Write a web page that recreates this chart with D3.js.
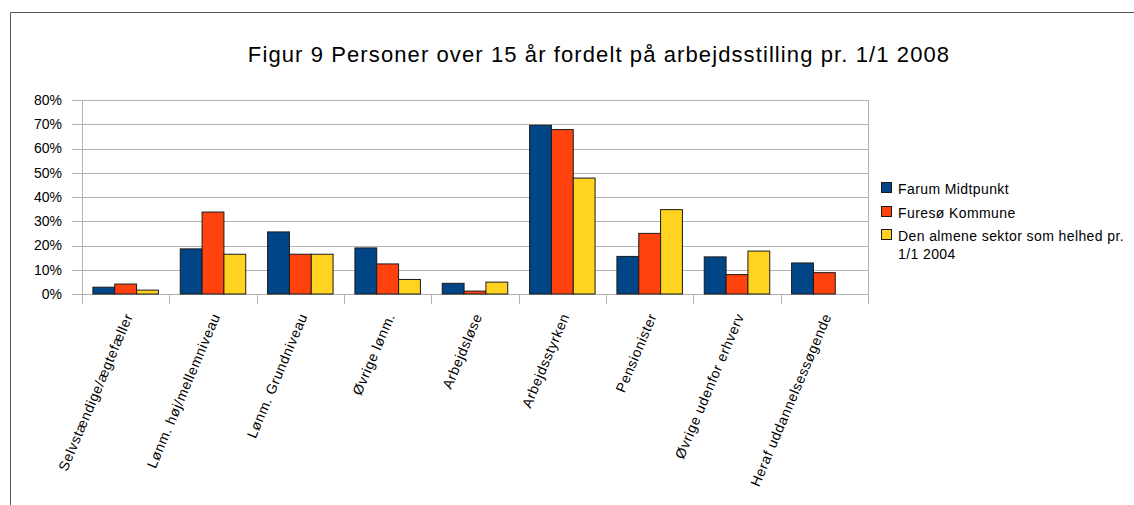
<!DOCTYPE html>
<html><head><meta charset="utf-8">
<script src="https://cdn.jsdelivr.net/npm/d3@7/dist/d3.min.js"></script>
<style>body{margin:0;background:#fff}svg{display:block}text{font-family:"Liberation Sans",Arial,sans-serif;fill:#000}</style>
</head><body><svg id="c" width="1134" height="505"></svg>
<script>
const categories = ["Selvstændige/ægtefæller","Lønm. høj/mellemniveau","Lønm. Grundniveau","Øvrige lønm.","Arbejdsløse","Arbejdsstyrken","Pensionister","Øvrige udenfor erhverv","Heraf uddannelsessøgende"];
const seriesNames = ["Farum Midtpunkt","Furesø Kommune","Den almene sektor som helhed pr. 1/1 2004"];
const farum = [2.8, 18.6, 25.6, 19.0, 4.4, 69.6, 15.5, 15.3, 12.8];
const furesoe = [4.1, 33.8, 16.4, 12.4, 1.2, 67.8, 25.0, 8.0, 8.8];
const almene = [1.6, 16.4, 16.4, 6.0, 4.9, 47.8, 34.8, 17.7, null];
const yTicks = [0,10,20,30,40,50,60,70,80];
const colors = ["#004586","#ff420e","#ffd320"];
const title = "Figur 9 Personer over 15 år fordelt på arbejdsstilling pr. 1/1 2008";

const svg = d3.select("#c");
// outer frame
svg.append("path").attr("d","M10.5,505 V12.5 H1134").attr("fill","none").attr("stroke","#555").attr("stroke-width",1);
svg.append("text").attr("x",599).attr("y",62).attr("text-anchor","middle").style("font-size","22px").style("letter-spacing","1.1px").text(title);

const L=82, R=868, T=100, B=294;
const x = d3.scaleBand().domain(categories).range([L,R]).paddingInner(0).paddingOuter(0);
const x1 = d3.scaleBand().domain([0,1,2]).range([0,x.bandwidth()]).paddingOuter(0.5).paddingInner(0);
const y = d3.scaleLinear().domain([0,80]).range([B,T]);

const g = svg.append("g");
// gridlines
g.selectAll("line.grid").data(yTicks).join("line")
  .attr("x1",L-10).attr("x2",R).attr("y1",d=>Math.round(y(d))+0.5).attr("y2",d=>Math.round(y(d))+0.5)
  .attr("stroke","#b3b3b3").attr("stroke-width",1);
g.selectAll("text.yl").data(yTicks).join("text")
  .attr("x",62).attr("y",d=>y(d)).attr("dy","0.35em").attr("text-anchor","end").style("font-size","14px")
  .text(d=>d+"%");
// axes lines
g.append("line").attr("x1",L+0.5).attr("x2",L+0.5).attr("y1",T).attr("y2",B+10).attr("stroke","#b3b3b3");
g.append("line").attr("x1",R+0.5).attr("x2",R+0.5).attr("y1",T).attr("y2",B+10).attr("stroke","#b3b3b3");
categories.forEach((c,i)=>{ if(i>0) g.append("line").attr("x1",Math.round(x(c))+0.5).attr("x2",Math.round(x(c))+0.5).attr("y1",B).attr("y2",B+10).attr("stroke","#b3b3b3"); });

const series=[farum,furesoe,almene];
series.forEach((vals,s)=>{
  g.selectAll("rect.s"+s).data(categories.map((c,i)=>({c,v:vals[i]})).filter(d=>d.v!=null)).join("rect")
   .attr("x",d=>x(d.c)+x1(s)).attr("width",x1.bandwidth())
   .attr("y",d=>y(d.v)).attr("height",d=>B-y(d.v))
   .attr("fill",colors[s]).attr("stroke","#1a1a1a").attr("stroke-width",1);
});

// x labels
g.selectAll("text.xl").data(categories).join("text")
  .attr("transform",d=>`translate(${x(d)+x.bandwidth()/2+3},${B+20}) rotate(-67)`)
  .attr("text-anchor","end").attr("dy","0.35em").style("font-size","14px").style("letter-spacing","0.6px").text(d=>d);

// legend
const leg = svg.append("g");
const legRows=[{y:182,lines:["Farum Midtpunkt"]},{y:206,lines:["Furesø Kommune"]},{y:229,lines:["Den almene sektor som helhed pr.","1/1 2004"]}];
legRows.forEach((r,i)=>{
  leg.append("rect").attr("x",881.5).attr("y",r.y+0.5).attr("width",10).attr("height",10).attr("fill",colors[i]).attr("stroke","#1a1a1a");
  r.lines.forEach((t,j)=>leg.append("text").attr("x",898).attr("y",r.y+12+j*18).style("font-size","14px").style("letter-spacing","0.4px").text(t));
});
</script></body></html>
